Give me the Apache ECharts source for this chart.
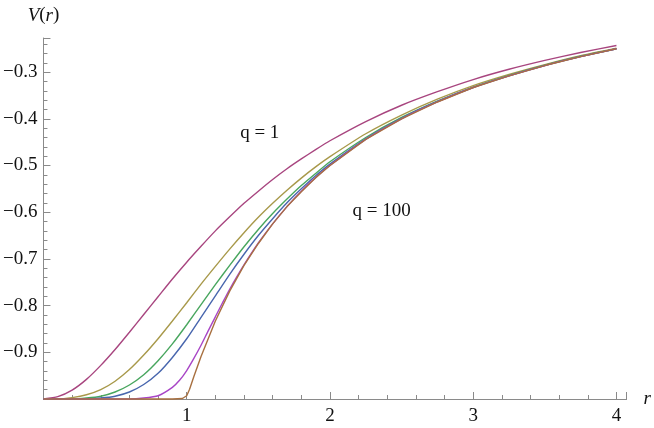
<!DOCTYPE html>
<html>
<head>
<meta charset="utf-8">
<script src="https://cdn.jsdelivr.net/npm/echarts@6/dist/echarts.min.js"></script>
<style>
  html, body { margin: 0; padding: 0; background: #fff; }
  #myChart { width: 654px; height: 428px; }
</style>
</head>
<body>
<div id="myChart"></div>
<script>
// r 取样点（前四条曲线共用）
var rGrid = [0, 0.1, 0.2, 0.3, 0.4, 0.5, 0.6, 0.7, 0.8, 0.9, 1.0,
  1.1, 1.2, 1.3, 1.4, 1.5, 1.6, 1.7, 1.8, 1.9, 2.0,
  2.25, 2.5, 2.75, 3.0, 3.25, 3.5, 3.75, 4.0];
// V(r)
var vPink = [-1, -0.995, -0.981, -0.958, -0.928, -0.894, -0.857, -0.819, -0.781, -0.743, -0.707,
  -0.673, -0.640, -0.610, -0.581, -0.555, -0.530, -0.507, -0.486, -0.466, -0.447,
  -0.406, -0.371, -0.342, -0.316, -0.294, -0.275, -0.258, -0.243];
var vGold = [-1, -1, -0.997, -0.991, -0.980, -0.962, -0.937, -0.906, -0.871, -0.833, -0.794,
  -0.754, -0.716, -0.679, -0.644, -0.611, -0.581, -0.553, -0.527, -0.503, -0.481,
  -0.432, -0.392, -0.358, -0.329, -0.305, -0.284, -0.265, -0.249];
var vGreen = [-1, -1, -1, -0.998, -0.994, -0.985, -0.970, -0.948, -0.918, -0.882, -0.841,
  -0.798, -0.755, -0.714, -0.674, -0.637, -0.603, -0.572, -0.543, -0.517, -0.492,
  -0.440, -0.397, -0.362, -0.332, -0.307, -0.285, -0.266, -0.250];
var vBlue = [-1, -1, -1, -1, -0.998, -0.994, -0.985, -0.969, -0.945, -0.911, -0.871,
  -0.825, -0.779, -0.733, -0.690, -0.650, -0.614, -0.580, -0.550, -0.522, -0.497,
  -0.443, -0.399, -0.363, -0.333, -0.308, -0.286, -0.267, -0.250];
// 紫色曲线在 r=1 附近弯得急，多取几个点
var rMagenta = [0, 0.2, 0.4, 0.6, 0.7, 0.8, 0.9, 0.95, 1.0, 1.05, 1.1, 1.15, 1.2, 1.25, 1.3,
  1.4, 1.5, 1.6, 1.7, 1.8, 1.9, 2.0, 2.25, 2.5, 2.75, 3.0, 3.25, 3.5, 3.75, 4.0];
var vMagenta = [-1, -1, -1, -1, -0.998, -0.993, -0.975, -0.960, -0.939, -0.913, -0.885, -0.854, -0.824, -0.794, -0.765,
  -0.713, -0.666, -0.625, -0.588, -0.555, -0.526, -0.500, -0.444, -0.400, -0.364, -0.333, -0.308, -0.286, -0.267, -0.250];
// q = 100：r<1 平的，之后贴着 -1/r
var rBrown = [0, 0.5, 0.9, 0.97, 1.0, 1.02, 1.05, 1.1, 1.2, 1.3, 1.4, 1.5, 1.6, 1.7, 1.8, 1.9, 2.0,
  2.25, 2.5, 2.75, 3.0, 3.25, 3.5, 3.75, 4.0];
var vBrown = [-1, -1, -1, -0.999, -0.993, -0.979, -0.952, -0.909, -0.833, -0.769, -0.714, -0.667, -0.625, -0.588, -0.556, -0.526, -0.500,
  -0.444, -0.400, -0.364, -0.333, -0.308, -0.286, -0.267, -0.250];

// 标注文字
var noteText = ['q = 1', 'q = 100'];
var noteR = [1.51, 2.36];
var noteV = [-0.431, -0.597];

var serifFont = '"Liberation Serif", "DejaVu Serif", serif';
var axisGray = '#8a8a8a';

function pairs(xs, ys) {
  var out = [];
  for (var i = 0; i < xs.length; i++) out.push([xs[i], ys[i]]);
  return out;
}

function lineSeries(name, xs, ys, color, smooth) {
  return {
    name: name,
    type: 'line',
    data: pairs(xs, ys),
    showSymbol: false,
    smooth: smooth,
    clip: false,
    lineStyle: { color: color, width: 1.4 },
    itemStyle: { color: color }
  };
}

var myChart = echarts.init(document.getElementById('myChart'));
var option = {
  animation: false,
  backgroundColor: '#fff',
  grid: { left: 43, top: 38, width: 585, height: 361 },
  xAxis: {
    type: 'value',
    min: 0,
    max: 4.071,
    interval: 1,
    name: 'r',
    nameLocation: 'end',
    nameGap: 17,
    nameTextStyle: { fontFamily: serifFont, fontSize: 19, fontStyle: 'italic', color: '#111' },
    axisLine: { onZero: false, lineStyle: { color: axisGray, width: 1 } },
    axisTick: { inside: true, length: 7, lineStyle: { color: axisGray } },
    minorTick: { show: true, splitNumber: 5, length: 4, lineStyle: { color: axisGray } },
    axisLabel: {
      showMinLabel: false,
      showMaxLabel: false,
      margin: 8,
      fontFamily: serifFont,
      fontSize: 19,
      color: '#111'
    },
    splitLine: { show: false }
  },
  yAxis: {
    type: 'value',
    min: -1,
    max: -0.227,
    interval: 0.1,
    name: '{i|V}({i|r})',
    nameLocation: 'end',
    nameGap: 13,
    nameTextStyle: {
      fontFamily: serifFont, fontSize: 19, color: '#111',
      rich: { i: { fontFamily: serifFont, fontSize: 19, fontStyle: 'italic', color: '#111' } }
    },
    axisLine: { onZero: false, lineStyle: { color: axisGray, width: 1 } },
    axisTick: { inside: true, length: 7, lineStyle: { color: axisGray } },
    minorTick: { show: true, splitNumber: 5, length: 4, lineStyle: { color: axisGray } },
    axisLabel: {
      showMinLabel: false,
      showMaxLabel: false,
      margin: 6,
      fontFamily: serifFont,
      fontSize: 19,
      color: '#111',
      formatter: function (v) { return v.toFixed(1).replace('-', '\u2212'); }
    },
    splitLine: { show: false }
  },
  series: [
    lineSeries('q1', rGrid, vPink, '#a8457f', 0.2),
    lineSeries('q2', rGrid, vGold, '#a8994a', 0.2),
    lineSeries('q3', rGrid, vGreen, '#48a65e', 0.2),
    lineSeries('q4', rGrid, vBlue, '#4866ae', 0.2),
    lineSeries('q5', rMagenta, vMagenta, '#a845c6', 0.2),
    lineSeries('q100', rBrown, vBrown, '#a87040', false)
  ]
};
myChart.setOption(option);

// 标注 q = 1 / q = 100，按数据坐标换算成像素
var notes = [];
for (var i = 0; i < noteText.length; i++) {
  var p = myChart.convertToPixel({ gridIndex: 0 }, [noteR[i], noteV[i]]);
  notes.push({
    type: 'text',
    x: p[0],
    y: p[1],
    style: {
      text: noteText[i],
      font: '19px ' + serifFont,
      fill: '#111',
      textAlign: 'center',
      textVerticalAlign: 'middle'
    }
  });
}
myChart.setOption({ graphic: notes });
</script>
</body>
</html>
